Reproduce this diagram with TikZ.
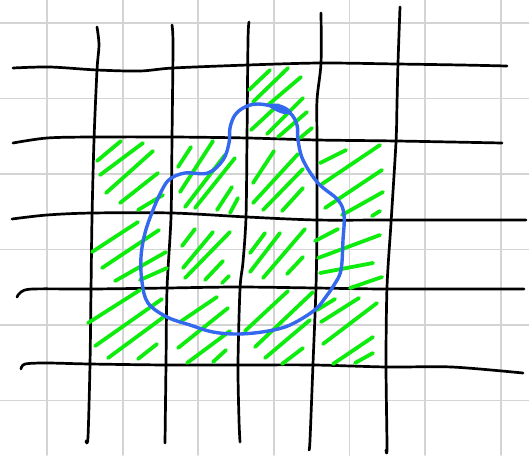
\documentclass[tikz,border=0pt]{standalone}
\usepackage{tikz}
\usetikzlibrary{calc}

\definecolor{paperline}{RGB}{212,212,212}
\definecolor{hatchgreen}{RGB}{14,236,14}
\definecolor{penblue}{RGB}{52,104,238}

\begin{document}
\begin{tikzpicture}[x=1pt,y=-1pt,line cap=round,line join=round]
	\tikzstyle{paper}=[paperline,line width=1.8pt]
	\tikzstyle{ink}=[black,line width=2.7pt]
	\tikzstyle{hatch}=[hatchgreen,line width=3.8pt]
	\tikzstyle{blob}=[penblue,line width=3.4pt]

	\useasboundingbox (0,0) rectangle (529,455);
	\fill[white] (0,0) rectangle (529,455);

	% squared paper
	\foreach \gx in {47,122.6,198.2,273.8,349.4,425,500.6}
		\draw[paper] (\gx,0) -- (\gx,455);
	\foreach \gy in {23,98.5,174,249.5,325,400.5}
		\draw[paper] (0,\gy) -- (529,\gy);

	% hand drawn grid, vertical strokes
	\draw[ink] plot[smooth] coordinates {(97,27) (99,45) (97,70) (94,140) (92,218) (91,290) (90,364) (88,437) (86,441)};
	\draw[ink] plot[smooth] coordinates {(172,25) (173,45) (172,138) (171,217) (167,289) (166,364) (165,443)};
	\draw[ink] plot[smooth] coordinates {(249,22) (248,40) (247,138) (246,217) (243,262) (240,289) (238,364) (239,420) (240,442)};
	\draw[ink] plot[smooth] coordinates {(321,13) (321,63) (317,100) (317,140) (317,223) (316,287) (313,364) (310,440) (309,450)};
	\draw[ink] plot[smooth] coordinates {(400,7) (398,63) (397,103) (396,142) (391,223) (387,287) (386,364) (387,447) (386,450)};

	% hand drawn grid, horizontal strokes
	\draw[ink] plot[smooth] coordinates {(13,68) (50,67) (97,70) (140,71) (173,68) (248,65) (321,63) (397,64) (461,65) (507,66)};
	\draw[ink] plot[smooth] coordinates {(13,143) (47,138) (93,137) (172,137) (248,138) (317,140) (397,141) (502,143)};
	\draw[ink] plot[smooth] coordinates {(12,219) (47,215) (92,213) (172,213) (247,217) (317,220) (391,220) (526,220)};
	\draw[ink] plot[smooth] coordinates {(17,297) (21,292) (33,289) (92,289) (167,288) (238,287) (316,288) (386,289) (524,289)};
	\draw[ink] plot[smooth] coordinates {(21,369) (25,364) (47,363) (90,364) (167,365) (238,365) (314,365) (387,367) (452,367) (523,373)};

	% shaded cells
	\foreach \xa/\ya/\xb/\yb in {
		249/90/270/70, 253/102/288/68, 268/105/301/77, 251/130/278/105,
		267/134/303/98, 278/137/307/112, 300/138/312/128,
		97/161/121/141, 100/175/143/143, 106/193/153/151, 120/203/158/173, 138/210/163/195,
		178/167/191/147, 180/192/213/141, 185/207/225/155, 195/208/235/158, 217/210/232/187, 230/213/238/198,
		253/183/274/151, 253/203/298/154, 263/210/303/169, 282/211/303/188,
		320/163/346/150, 322/184/380/145, 325/208/382/170, 342/215/383/192, 372/216/380/211,
		92/252/138/222, 102/268/159/230, 115/281/166/252, 140/280/167/268,
		182/246/195/229, 183/268/213/232, 185/278/230/232, 205/280/223/261, 222/283/229/276,
		250/253/265/233, 250/272/280/233, 263/278/305/229, 287/274/303/257,
		315/241/338/229, 318/258/380/235, 320/273/373/263, 350/288/382/277,
		88/323/140/290, 95/346/162/299, 108/358/165/316, 138/359/157/344,
		180/322/217/297, 178/348/228/308, 187/363/230/331, 213/362/226/350,
		245/331/288/291, 255/347/313/292, 265/358/310/320, 282/364/303/348,
		317/310/335/299, 321/322/359/298, 323/344/377/303, 333/364/373/337, 355/363/373/353}
		\draw[hatch] (\xa,\ya) -- (\xb,\yb);

	% outline
	\draw[blob] plot[smooth cycle,tension=0.6] coordinates {
		(258,104) (275,107) (290,113) (297,125) (298,140) (303,160) (318,183) (338,200)
		(344,215) (343,240) (341,270) (334,285) (325,298) (317,308) (303,318) (285,327)
		(262,332) (237,334) (213,332) (190,325) (167,317) (148,303) (142,282) (141,257)
		(145,233) (153,210) (162,190) (170,179) (185,173) (208,173) (223,160) (229,143)
		(230,128) (235,115) (245,107)};
	\fill[penblue] (267,105) .. controls (276,101) and (288,106) .. (292,112)
		.. controls (288,117) and (276,113) .. cycle;
\end{tikzpicture}
\end{document}
